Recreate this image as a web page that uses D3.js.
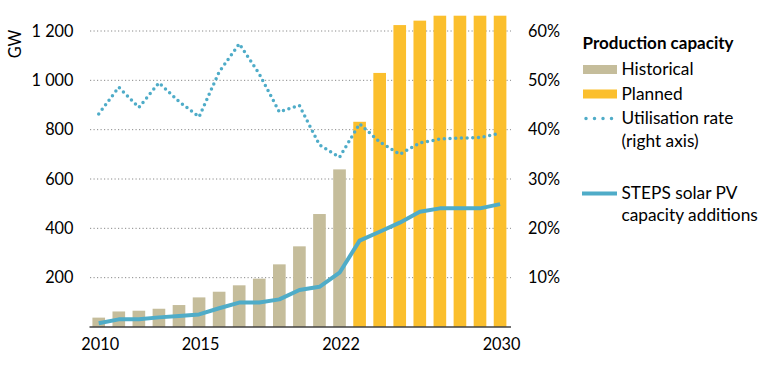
<!DOCTYPE html>
<html><head><meta charset="utf-8">
<script src="https://cdn.jsdelivr.net/npm/d3@7"></script>
<style>
html,body{margin:0;padding:0;background:#fff;}
svg{display:block;font-family:Lato,"Open Sans",sans-serif;}
</style></head>
<body><svg id="c" width="767" height="368"></svg>
<script>
const years = d3.range(2010, 2031).map(String);
const historical = [38,63,66,74,89,120,143,169,196,254,327,458,639,null,null,null,null,null,null,null,null];
const planned = [null,null,null,null,null,null,null,null,null,null,null,null,null,832,1030,1224,1242,1262,1262,1262,1262];
const steps = [15,31,31,39,45,51,76,99,99,112,150,163,220,350,386,423,467,481,481,481,498];
const utilisation = [43.2,48.6,44.5,49.5,45.7,42.6,51.7,57.4,51.3,43.6,44.9,36.9,34.4,41.2,37.5,35.0,37.3,38.1,38.3,38.4,39.3];
const leftTicks = [200,400,600,800,1000,1200];
const leftTickLabels = ["200","400","600","800","1 000","1 200"];
const rightTicks = [10,20,30,40,50,60];
const rightTickLabels = ["10%","20%","30%","40%","50%","60%"];
const xTickLabels = ["2010","2015","2022","2030"];

const colHist = "#c5bd9b", colPlan = "#fbbf2d", colLine = "#4facc8";

const svg = d3.select("#c");
const x = d3.scaleBand().domain(years).range([88.7, 510.1]).paddingInner(0.37).paddingOuter(0.185);
const y = d3.scaleLinear().domain([0,1200]).range([327,31]);
const y2 = d3.scaleLinear().domain([0,60]).range([327,31]);
const cx = d => x(d) + x.bandwidth()/2;

// gridlines
svg.append("g").selectAll("line").data(leftTicks).join("line")
  .attr("x1", 90).attr("x2", 511)
  .attr("y1", d => y(d)).attr("y2", d => y(d))
  .attr("stroke", "#8a8a8a").attr("stroke-width", 1).attr("stroke-dasharray", "1.2,2.3");

// left axis labels
const la = svg.append("g").attr("transform", "translate(73.5,0)")
  .call(d3.axisLeft(y).tickValues(leftTicks).tickFormat((d,i)=>leftTickLabels[i]).tickSize(0).tickPadding(0));
la.select(".domain").remove();
la.selectAll("text").attr("font-size", 16.3).attr("fill", "#000").attr("font-family", "Lato");

// right axis labels
const ra = svg.append("g").attr("transform", "translate(528,0)")
  .call(d3.axisRight(y2).tickValues(rightTicks).tickFormat((d,i)=>rightTickLabels[i]).tickSize(0).tickPadding(0));
ra.select(".domain").remove();
ra.selectAll("text").attr("font-size", 16.3).attr("fill", "#000").attr("font-family", "Lato");

// GW label
svg.append("text").attr("transform", "translate(20.5,44) rotate(-90)")
  .attr("text-anchor", "middle").attr("font-size", 16.3).text("GW");

// bars
svg.append("g").selectAll("rect").data(years.filter((d,i)=>historical[i]!=null)).join("rect")
  .attr("x", d => x(d)).attr("width", x.bandwidth())
  .attr("y", d => y(historical[years.indexOf(d)]))
  .attr("height", d => y(0) - y(historical[years.indexOf(d)]))
  .attr("fill", colHist);
svg.append("g").selectAll("rect").data(years.filter((d,i)=>planned[i]!=null)).join("rect")
  .attr("x", d => x(d)).attr("width", x.bandwidth())
  .attr("y", d => y(planned[years.indexOf(d)]))
  .attr("height", d => y(0) - y(planned[years.indexOf(d)]))
  .attr("fill", colPlan);

// x axis
const xa = svg.append("g").attr("transform", "translate(0,327)")
  .call(d3.axisBottom(x).tickValues(xTickLabels).tickSize(0).tickPadding(11));
xa.select(".domain").attr("d", "M89.5,0H511").attr("stroke", "#404040").attr("stroke-width", 1.5);
xa.selectAll("text").attr("font-size", 16.3).attr("fill", "#000").attr("font-family", "Lato").attr("dx", 1.5);

// utilisation dotted line
svg.append("path").datum(years)
  .attr("d", d3.line().x(d => cx(d)).y((d,i) => y2(utilisation[i])))
  .attr("fill", "none").attr("stroke", colLine).attr("stroke-width", 3.5)
  .attr("stroke-linecap", "round").attr("stroke-dasharray", "0,5.7");

// STEPS line
svg.append("path").datum(years)
  .attr("d", d3.line().x(d => cx(d)).y((d,i) => y(steps[i])))
  .attr("fill", "none").attr("stroke", colLine).attr("stroke-width", 4)
  .attr("stroke-linejoin", "round");

// legend
const lg = svg.append("g").attr("font-size", 17.3).attr("fill", "#000");
lg.append("text").attr("x", 582.5).attr("y", 49).attr("font-weight", "bold").attr("font-size", 17).text("Production capacity");
lg.append("rect").attr("x", 583).attr("y", 65).attr("width", 34).attr("height", 9).attr("fill", colHist);
lg.append("text").attr("x", 621.5).attr("y", 75).text("Historical");
lg.append("rect").attr("x", 583).attr("y", 89.5).attr("width", 34).attr("height", 9).attr("fill", colPlan);
lg.append("text").attr("x", 621.5).attr("y", 100).text("Planned");
lg.append("line").attr("x1", 586).attr("x2", 616).attr("y1", 118.5).attr("y2", 118.5)
  .attr("stroke", colLine).attr("stroke-width", 3.5).attr("stroke-linecap", "round").attr("stroke-dasharray", "0,8.5");
lg.append("text").attr("x", 621.5).attr("y", 124).text("Utilisation rate");
lg.append("text").attr("x", 621.5).attr("y", 147).text("(right axis)");
lg.append("line").attr("x1", 582).attr("x2", 617).attr("y1", 193.5).attr("y2", 193.5)
  .attr("stroke", colLine).attr("stroke-width", 4);
lg.append("text").attr("x", 621.5).attr("y", 199).text("STEPS solar PV");
lg.append("text").attr("x", 621.5).attr("y", 221).text("capacity additions");
</script></body></html>
